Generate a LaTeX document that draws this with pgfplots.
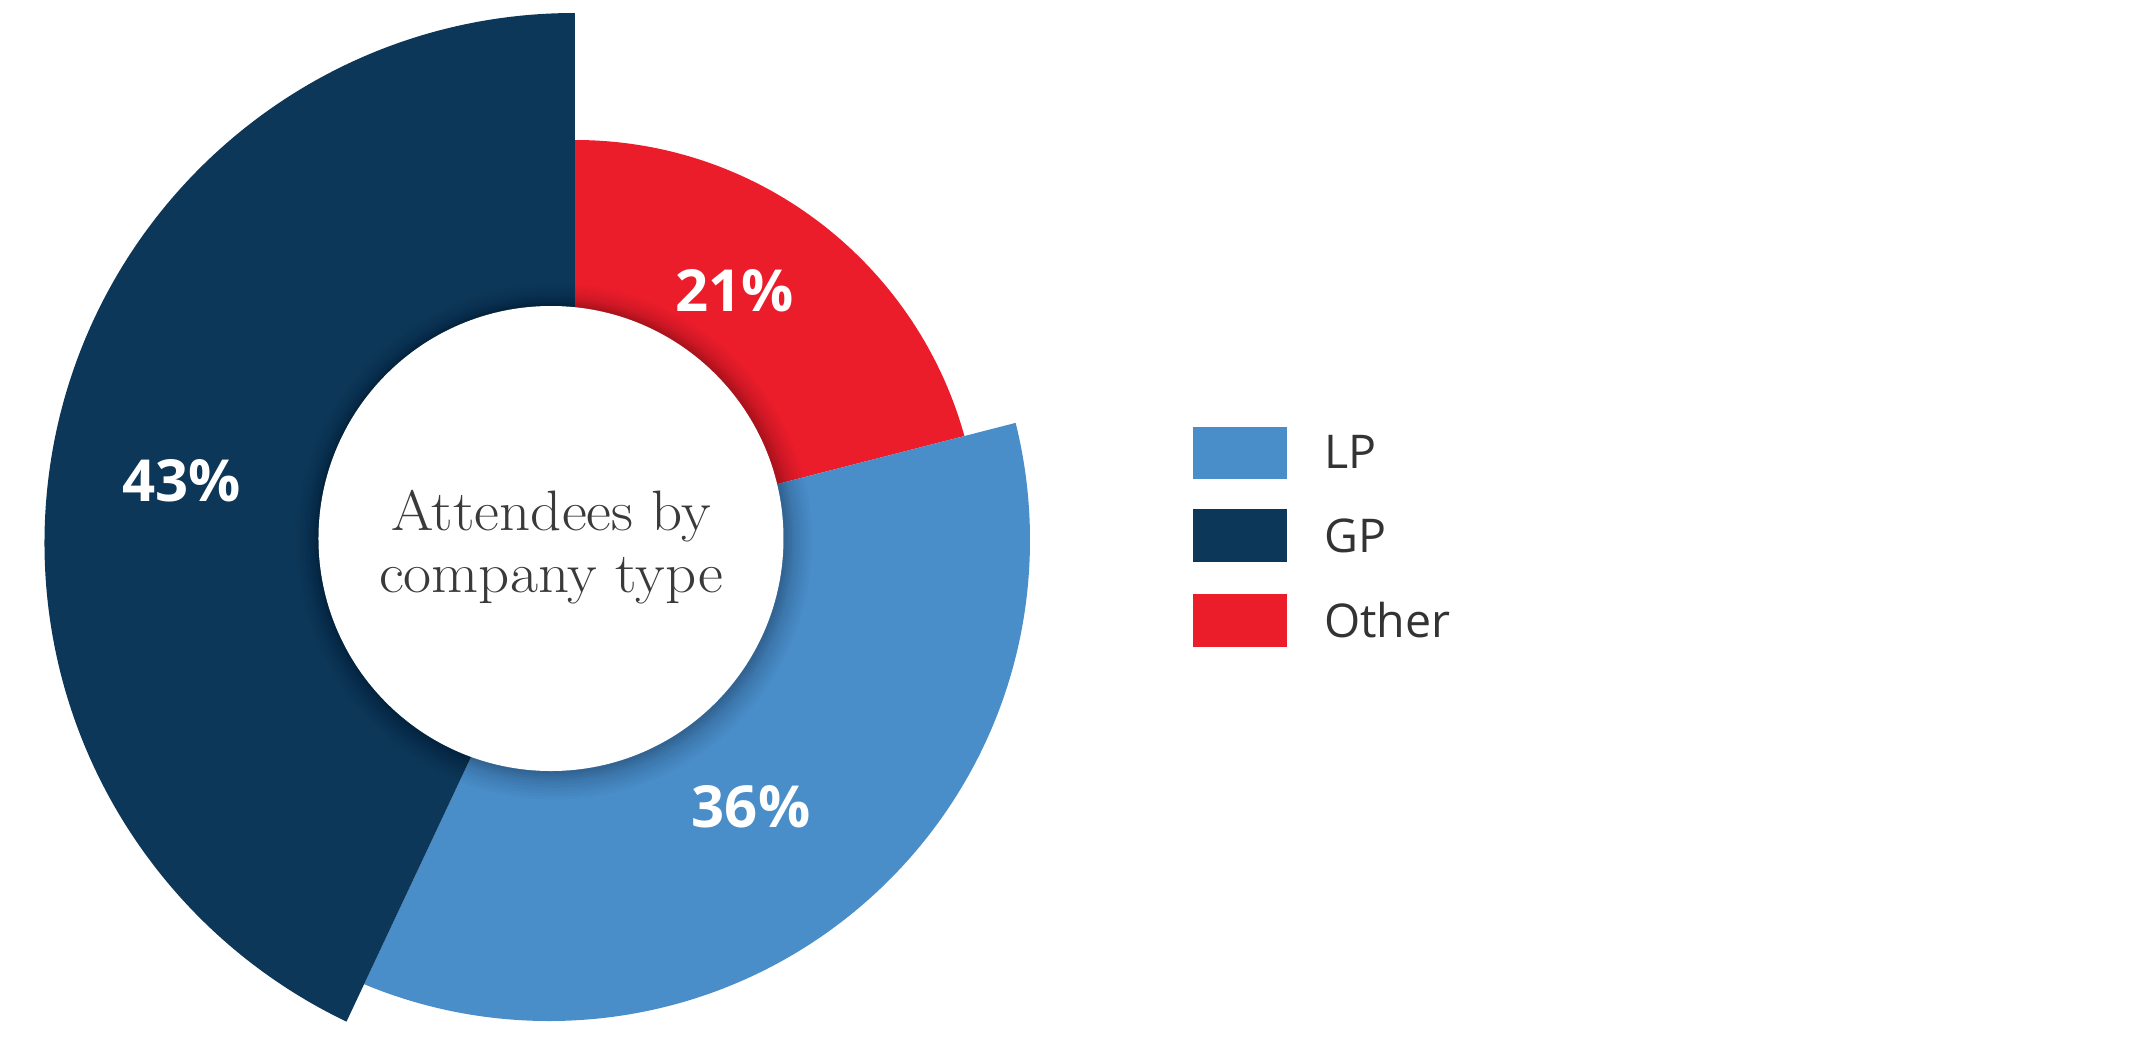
\documentclass[border=0pt]{standalone}
\usepackage{pgfplots}
\pgfplotsset{compat=1.18}
\usepackage{pgfplotstable}
\usepackage{fontspec}
\newfontfamily\opensans{Open Sans}
\definecolor{lpblue}{HTML}{498DC9}
\definecolor{gpnavy}{HTML}{0D3758}
\definecolor{otherred}{HTML}{EC1D2B}
\definecolor{txtgray}{HTML}{333333}
\definecolor{centergray}{HTML}{3A3A3A}

\pgfplotstableread{
name  value
Other 21
LP    36
GP    43
}\shares

\begin{document}
\begin{tikzpicture}
\useasboundingbox (0,0) rectangle (2145pt,1042pt);
\pgfplotstablegetelem{0}{value}\of\shares \pgfmathsetmacro\vO{\pgfplotsretval}
\pgfplotstablegetelem{1}{value}\of\shares \pgfmathsetmacro\vL{\pgfplotsretval}
\pgfplotstablegetelem{2}{value}\of\shares \pgfmathsetmacro\vG{\pgfplotsretval}
% sector angles (clockwise from 12 o'clock)
\pgfmathsetmacro\aO{90}
\pgfmathsetmacro\bO{90-3.6*\vO}
\pgfmathsetmacro\aL{\bO}
\pgfmathsetmacro\bL{\bO-3.6*\vL}
\pgfmathsetmacro\aG{\bL}
\pgfmathsetmacro\bG{\bL-3.6*\vG}
\pgfmathsetmacro\mOa{\aO-(\aO-\bO)/3}\pgfmathsetmacro\mOb{\aO-2*(\aO-\bO)/3}
\pgfmathsetmacro\mLa{\aL-(\aL-\bL)/3}\pgfmathsetmacro\mLb{\aL-2*(\aL-\bL)/3}
\pgfmathsetmacro\mGa{\aG-(\aG-\bG)/3}\pgfmathsetmacro\mGb{\aG-2*(\aG-\bG)/3}
\begin{axis}[x=1pt,y=1pt,xmin=0,xmax=2145,ymin=0,ymax=1042,
  hide axis,clip=false]
\addplot[draw=none] coordinates {(0,0) (2145,1042)};
% Other
\begin{scope}
\clip (axis cs:575,506) -- +(\aO:1500pt) -- +(\mOa:1500pt) -- +(\mOb:1500pt) -- +(\bO:1500pt) -- cycle;
\fill[otherred] (axis cs:575,498) circle[radius=404pt];
\end{scope}
% LP
\begin{scope}
\clip (axis cs:575,506) -- +(\aL:1500pt) -- +(\mLa:1500pt) -- +(\mLb:1500pt) -- +(\bL:1500pt) -- cycle;
\fill[lpblue] (axis cs:549,502) circle[radius=481pt];
\end{scope}
% GP
\begin{scope}
\clip (axis cs:575,506) -- +(\aG:1500pt) -- +(\mGa:1500pt) -- +(\mGb:1500pt) -- +(\bG:1500pt) -- cycle;
\fill[gpnavy] (axis cs:574.5,499) circle[radius=530pt];
\end{scope}
% soft shadow of the centre disc
\fill[black,opacity=0.018] (axis cs:554,500.5) circle[radius=258pt];
\fill[black,opacity=0.018] (axis cs:554,500.5) circle[radius=255pt];
\fill[black,opacity=0.02] (axis cs:554,500.5) circle[radius=252pt];
\fill[black,opacity=0.022] (axis cs:554,500.5) circle[radius=249pt];
\fill[black,opacity=0.025] (axis cs:554,500.5) circle[radius=246pt];
\fill[black,opacity=0.028] (axis cs:553.5,501) circle[radius=243.5pt];
\fill[black,opacity=0.032] (axis cs:553,501.5) circle[radius=241pt];
\fill[black,opacity=0.036] (axis cs:553,502) circle[radius=239pt];
\fill[black,opacity=0.04] (axis cs:552.5,502.5) circle[radius=237pt];
\fill[black,opacity=0.045] (axis cs:552,503) circle[radius=235pt];
\fill[white] (axis cs:551,503.5) circle[radius=232.5pt];
% centre text
\node[anchor=base,inner sep=0pt,text=centergray,font=\fontsize{57}{68}\selectfont] at (axis cs:551,511.3) {\scalebox{1.07}[1]{Attendees by}};
\node[anchor=base,inner sep=0pt,text=centergray,font=\fontsize{57}{68}\selectfont] at (axis cs:551,449.3) {\scalebox{1.07}[1]{company type}};
% percentage labels
\node[inner sep=0pt,text=white,font=\opensans\bfseries\fontsize{58}{70}\selectfont] at (axis cs:182,561.5) {43\%};
\node[inner sep=0pt,text=white,font=\opensans\bfseries\fontsize{58}{70}\selectfont] at (axis cs:735,751) {21\%};
\node[inner sep=0pt,text=white,font=\opensans\bfseries\fontsize{58}{70}\selectfont] at (axis cs:751,235) {36\%};
% legend
\fill[lpblue] (axis cs:1193.3,562.7) rectangle (axis cs:1286.7,615.3);
\fill[gpnavy] (axis cs:1193.3,479.7) rectangle (axis cs:1286.7,533);
\fill[otherred] (axis cs:1193.3,395.3) rectangle (axis cs:1286.7,448);
\node[anchor=base west,inner sep=0pt,text=txtgray,font=\opensans\fontsize{46.5}{56}\selectfont] at (axis cs:1324,573.7) {LP};
\node[anchor=base west,inner sep=0pt,text=txtgray,font=\opensans\fontsize{46.5}{56}\selectfont] at (axis cs:1324,489.7) {GP};
\node[anchor=base west,inner sep=0pt,text=txtgray,font=\opensans\fontsize{46.5}{56}\selectfont] at (axis cs:1324,404.7) {Other};
\end{axis}
\end{tikzpicture}
\end{document}
